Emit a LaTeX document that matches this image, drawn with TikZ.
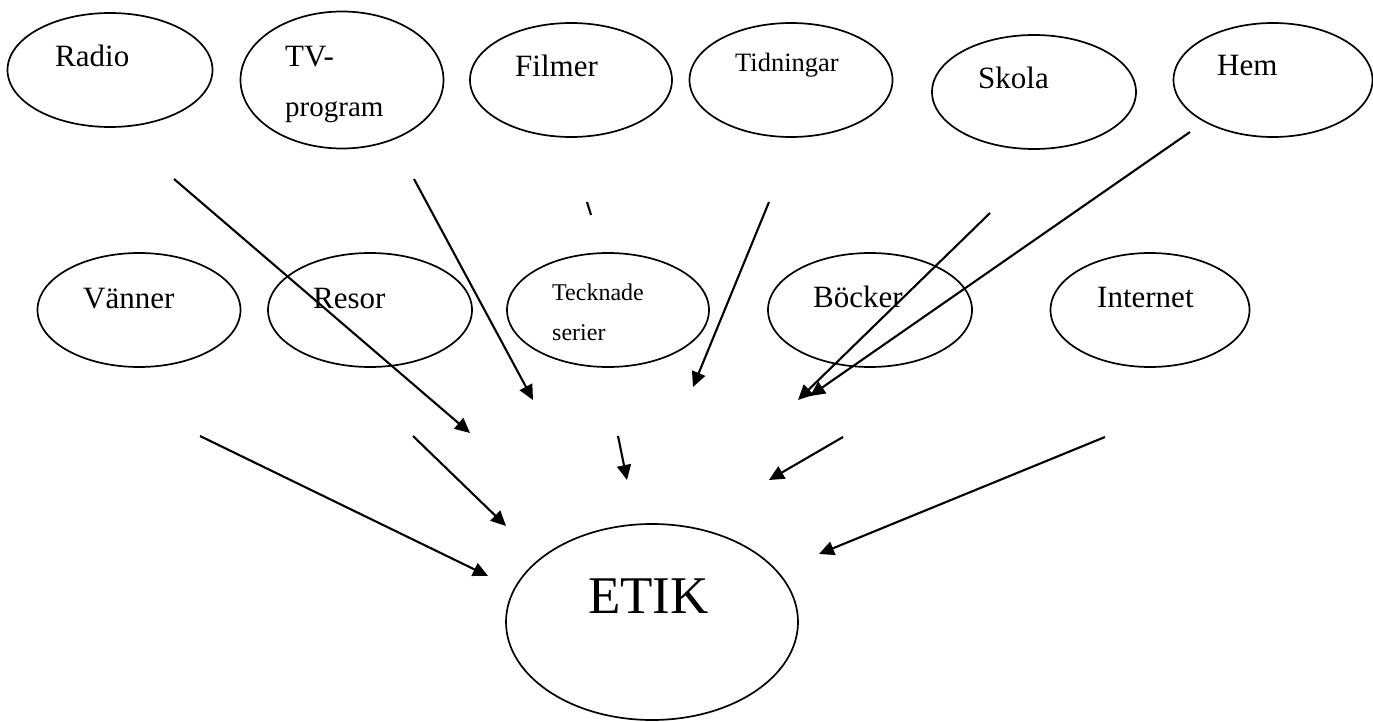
\documentclass[tikz,border=0pt]{standalone}
\usepackage{fontspec}
\setmainfont{Liberation Serif}
\usetikzlibrary{shapes.geometric,arrows.meta}
\begin{document}
\begin{tikzpicture}[x=1pt,y=-1pt,
  oval/.style={draw,ellipse,line width=1.7pt,inner sep=0pt,minimum width=203pt,minimum height=114pt},
  lbl/.style={anchor=base west,inner sep=0pt,font=\fontsize{31}{31}\selectfont},
  smalllbl/.style={lbl,font=\fontsize{24}{24}\selectfont},
  flow/.style={line width=2.1pt,-{Triangle[length=15pt,width=14pt]}}]
\useasboundingbox (0,0) rectangle (1373,722);
% top row
\node[oval,minimum width=205pt] (radio) at (110,70) {};
\node[oval,minimum height=137pt] (tv) at (342,80) {};
\node[oval,minimum width=202pt] (filmer) at (571,80) {};
\node[oval] (tidningar) at (791,80) {};
\node[oval,minimum width=204pt] (skola) at (1034,92) {};
\node[oval,minimum width=199pt] (hem) at (1273,80) {};
% middle row
\node[oval] (vanner) at (139,310) {};
\node[oval,minimum width=204pt] (resor) at (370,310) {};
\node[oval,minimum width=202pt] (tecknade) at (608,310) {};
\node[oval,minimum width=204pt] (bocker) at (870,310) {};
\node[oval,minimum width=199pt] (internet) at (1150,310) {};
% ETIK
\node[oval,minimum width=292pt,minimum height=196pt] (etik) at (652,622) {};
% labels
\node[lbl] (tradio) at (55,67) {Radio};
\node[lbl] (ttv1) at (285,67) {TV-};
\node[lbl,font=\fontsize{29}{29}\selectfont] (ttv2) at (285,117) {program};
\node[lbl] (tfilmer) at (515,77) {Filmer};
\node[lbl,font=\fontsize{26.5}{26.5}\selectfont] (ttidningar) at (735,72) {Tidningar};
\node[lbl] (tskola) at (978,89) {Skola};
\node[lbl] (them) at (1217,76) {Hem};
\node[lbl] (tvanner) at (83,308) {Vänner};
\node[lbl] (tresor) at (313,308) {Resor};
\node[smalllbl] (ttecknade1) at (552,300) {Tecknade};
\node[smalllbl] (ttecknade2) at (552,340) {serier};
\node[lbl] (tbocker) at (813,307) {Böcker};
\node[lbl] (tinternet) at (1097,307) {Internet};
\node[lbl,font=\fontsize{53}{53}\selectfont] (tetik) at (588,613) {ETIK};
% arrow end points
\coordinate (r1) at (174,179);   \coordinate (r2) at (470,433);
\coordinate (tv1) at (414,179);  \coordinate (tv2) at (533,400);
\coordinate (bs1) at (587,202);  \coordinate (bs2) at (591,215);
\coordinate (ti1) at (769,202);  \coordinate (ti2) at (693,387);
\coordinate (sk1) at (990,213);  \coordinate (sk2) at (798,400);
\coordinate (he1) at (1190,132); \coordinate (he2) at (810,396);
\coordinate (va1) at (200,436);  \coordinate (va2) at (488,576);
\coordinate (re1) at (413,436);  \coordinate (re2) at (506,526);
\coordinate (te1) at (618,436);  \coordinate (te2) at (627,480);
\coordinate (bo1) at (843,437);  \coordinate (bo2) at (769,480);
\coordinate (in1) at (1105,437); \coordinate (in2) at (819,554);
% arrows
\draw[flow] (r1) -- (r2);
\draw[flow] (tv1) -- (tv2);
\draw[line width=2.1pt] (bs1) -- (bs2);
\draw[flow] (ti1) -- (ti2);
\draw[flow] (sk1) -- (sk2);
\draw[flow] (he1) -- (he2);
\draw[flow] (va1) -- (va2);
\draw[flow] (re1) -- (re2);
\draw[flow] (te1) -- (te2);
\draw[flow] (bo1) -- (bo2);
\draw[flow] (in1) -- (in2);
\end{tikzpicture}
\end{document}
